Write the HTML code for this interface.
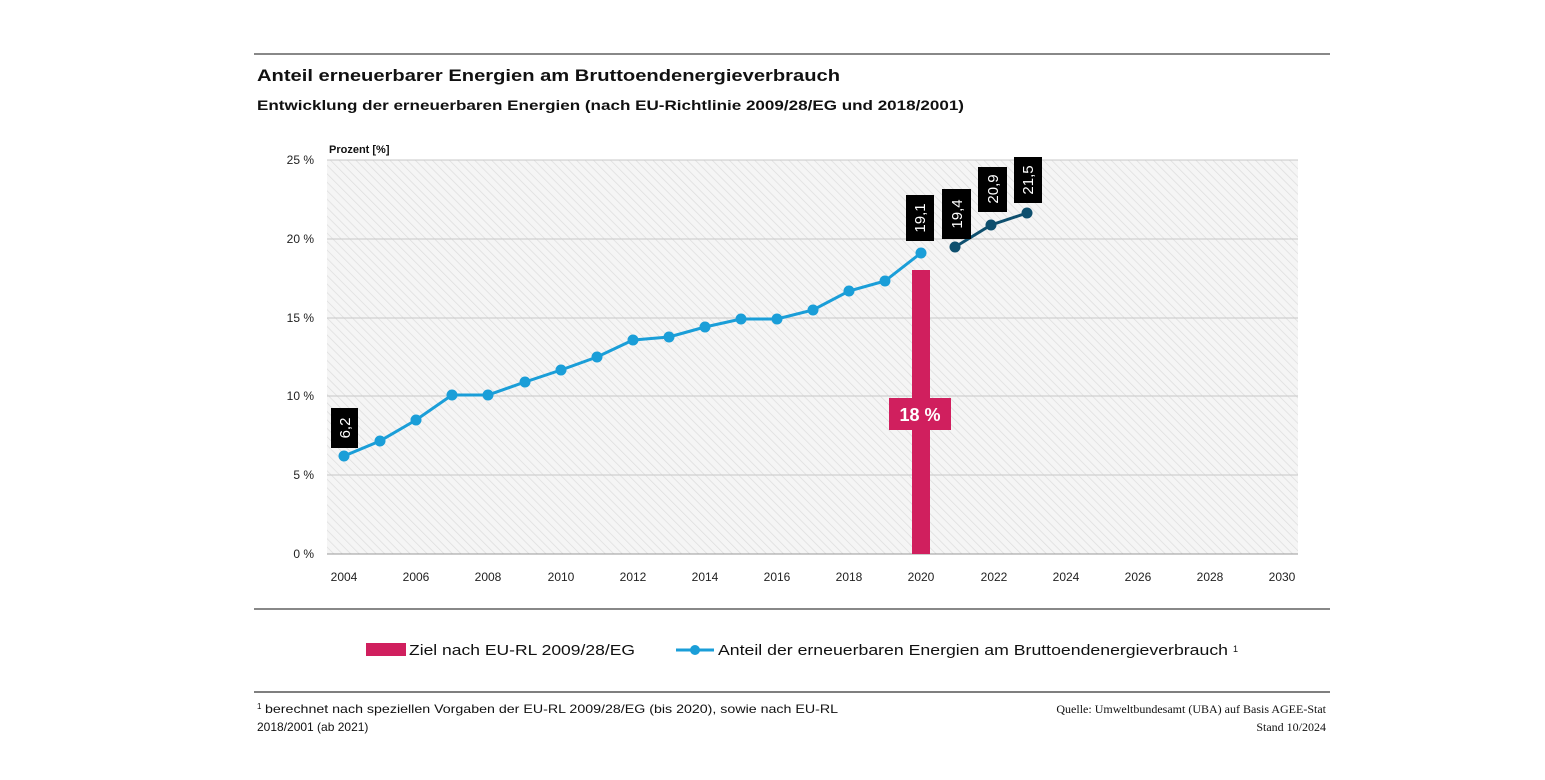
<!DOCTYPE html>
<html><head><meta charset="utf-8"><style>
body{margin:0;background:#fff;width:1545px;height:775px;overflow:hidden;font-family:"Liberation Sans",sans-serif}
</style></head><body>
<svg width="1545" height="775" xmlns="http://www.w3.org/2000/svg" font-family="Liberation Sans, sans-serif">
<defs>
<pattern id="h" width="6" height="6" patternUnits="userSpaceOnUse" patternTransform="rotate(-45)">
<rect width="6" height="6" fill="#f5f5f5"/><line x1="0" y1="0" x2="0" y2="6" stroke="#dcdcdc" stroke-width="1.4"/>
</pattern>
</defs>
<line x1="254" y1="54" x2="1330" y2="54" stroke="#888" stroke-width="2"/>
<text x="257" y="81" font-size="17" font-weight="bold" fill="#111" textLength="583" lengthAdjust="spacingAndGlyphs">Anteil erneuerbarer Energien am Bruttoendenergieverbrauch</text>
<text x="257" y="110" font-size="14" font-weight="bold" fill="#111" textLength="707" lengthAdjust="spacingAndGlyphs">Entwicklung der erneuerbaren Energien (nach EU-Richtlinie 2009/28/EG  und 2018/2001)</text>
<text x="329" y="153" font-size="11" font-weight="bold" fill="#111">Prozent [%]</text>
<rect x="327" y="160" width="971" height="394" fill="url(#h)"/>
<g stroke="#c8c8c8" stroke-width="1">
<line x1="327" y1="160" x2="1298" y2="160"/><line x1="327" y1="239" x2="1298" y2="239"/>
<line x1="327" y1="318" x2="1298" y2="318"/><line x1="327" y1="396" x2="1298" y2="396"/>
<line x1="327" y1="475" x2="1298" y2="475"/>
</g>
<line x1="327" y1="554" x2="1298" y2="554" stroke="#999"/>
<g font-size="12" fill="#222" text-anchor="end">
<text x="314" y="164">25 %</text><text x="314" y="243">20 %</text><text x="314" y="322">15 %</text>
<text x="314" y="400">10 %</text><text x="314" y="479">5 %</text><text x="314" y="558">0 %</text>
</g>
<g font-size="12" fill="#222" text-anchor="middle">
<text x="344" y="581">2004</text><text x="416" y="581">2006</text><text x="488" y="581">2008</text>
<text x="561" y="581">2010</text><text x="633" y="581">2012</text><text x="705" y="581">2014</text>
<text x="777" y="581">2016</text><text x="849" y="581">2018</text><text x="921" y="581">2020</text>
<text x="994" y="581">2022</text><text x="1066" y="581">2024</text><text x="1138" y="581">2026</text>
<text x="1210" y="581">2028</text><text x="1282" y="581">2030</text>
</g>
<rect x="912" y="270" width="18" height="284" fill="#d01f5e"/>
<rect x="889" y="398" width="62" height="32" fill="#d01f5e"/>
<text x="920" y="421" font-size="18" font-weight="bold" fill="#fff" text-anchor="middle">18 %</text>
<polyline fill="none" stroke="#1a9ed8" stroke-width="3" points="344,456 380,441 416,420 452,395 488,395 525,382 561,370 597,357 633,340 669,337 705,327 741,319 777,319 813,310 849,291 885,281 921,253"/>
<g fill="#1a9ed8">
<circle cx="344" cy="456" r="5.5"/><circle cx="380" cy="441" r="5.5"/><circle cx="416" cy="420" r="5.5"/><circle cx="452" cy="395" r="5.5"/><circle cx="488" cy="395" r="5.5"/><circle cx="525" cy="382" r="5.5"/><circle cx="561" cy="370" r="5.5"/><circle cx="597" cy="357" r="5.5"/><circle cx="633" cy="340" r="5.5"/><circle cx="669" cy="337" r="5.5"/><circle cx="705" cy="327" r="5.5"/><circle cx="741" cy="319" r="5.5"/><circle cx="777" cy="319" r="5.5"/><circle cx="813" cy="310" r="5.5"/><circle cx="849" cy="291" r="5.5"/><circle cx="885" cy="281" r="5.5"/><circle cx="921" cy="253" r="5.5"/>
</g>
<polyline fill="none" stroke="#0e4f6e" stroke-width="3" points="955,247 991,225 1027,213"/>
<g fill="#0e4f6e"><circle cx="955" cy="247" r="5.5"/><circle cx="991" cy="225" r="5.5"/><circle cx="1027" cy="213" r="5.5"/></g>
<g font-size="15" fill="#fff">
<rect x="331" y="408" width="27" height="40" fill="#000"/><text transform="translate(350,428) rotate(-90)" text-anchor="middle">6,2</text>
<rect x="906" y="195" width="28" height="46" fill="#000"/><text transform="translate(925,218) rotate(-90)" text-anchor="middle">19,1</text>
<rect x="942" y="189" width="29" height="50" fill="#000"/><text transform="translate(962,214) rotate(-90)" text-anchor="middle">19,4</text>
<rect x="978" y="167" width="29" height="45" fill="#000"/><text transform="translate(998,189) rotate(-90)" text-anchor="middle">20,9</text>
<rect x="1014" y="157" width="28" height="46" fill="#000"/><text transform="translate(1033,180) rotate(-90)" text-anchor="middle">21,5</text>
</g>
<line x1="254" y1="609" x2="1330" y2="609" stroke="#888" stroke-width="2"/>
<rect x="366" y="643" width="40" height="13" fill="#d01f5e"/>
<text x="409" y="655" font-size="15" fill="#111" textLength="226" lengthAdjust="spacingAndGlyphs">Ziel nach EU-RL 2009/28/EG</text>
<line x1="676" y1="650" x2="714" y2="650" stroke="#1a9ed8" stroke-width="3"/>
<circle cx="695" cy="650" r="5" fill="#1a9ed8"/>
<text x="718" y="655" font-size="15" fill="#111" textLength="510" lengthAdjust="spacingAndGlyphs">Anteil der erneuerbaren Energien am Bruttoendenergieverbrauch</text>
<text x="1233" y="652" font-size="9" fill="#111">1</text>
<line x1="254" y1="692" x2="1330" y2="692" stroke="#555" stroke-width="1.5"/>
<text x="257" y="709" font-size="8" fill="#111">1</text>
<text x="265" y="713" font-size="12" fill="#111" textLength="573" lengthAdjust="spacingAndGlyphs">berechnet nach speziellen Vorgaben der EU-RL 2009/28/EG (bis 2020), sowie nach EU-RL</text>
<text x="257" y="731" font-size="12" fill="#111">2018/2001 (ab 2021)</text>
<text x="1326" y="713" font-size="12" fill="#111" text-anchor="end" font-family="Liberation Serif, serif">Quelle: Umweltbundesamt (UBA) auf Basis AGEE-Stat</text>
<text x="1326" y="731" font-size="12" fill="#111" text-anchor="end" font-family="Liberation Serif, serif">Stand 10/2024</text>
</svg>
</body></html>
